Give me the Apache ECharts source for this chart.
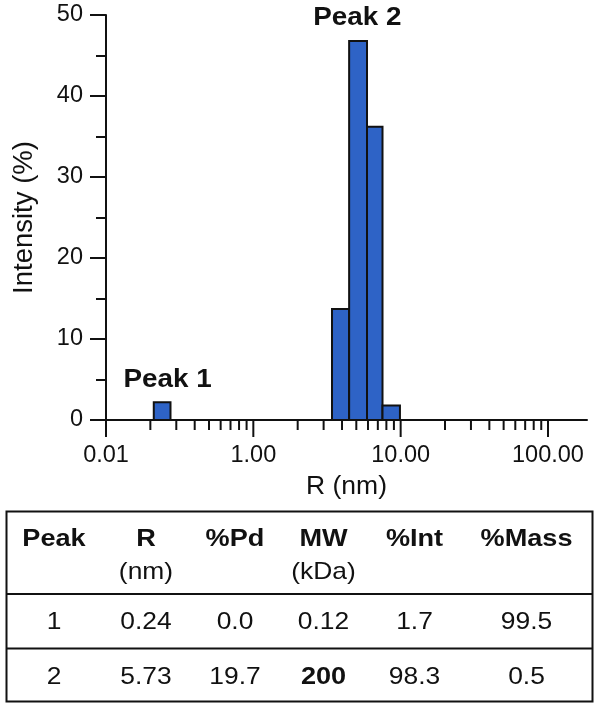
<!DOCTYPE html>
<html><head><meta charset="utf-8">
<script src="https://cdn.jsdelivr.net/npm/echarts@6/dist/echarts.min.js"></script>
<style>html,body{margin:0;padding:0;background:#fff}#c{width:600px;height:710px}</style>
</head><body><div id="c"></div>
<script>
// ---- data ----
const binStart = [0.211, 3.42, 4.47, 5.91, 7.53];
const binEnd = [0.274, 4.47, 5.91, 7.53, 9.89];
const intensity = [2.2, 13.7, 46.8, 36.2, 1.8];
const xMajorTicks = [0.1, 1, 10, 100];
const xMajorLabels = ['0.01', '1.00', '10.00', '100.00'];
const xMinorTicks = [0.2, 0.3, 0.4, 0.5, 0.6, 0.7, 0.8, 0.9, 2, 3, 4, 5, 6, 7, 8, 9, 20, 30, 40, 50, 60, 70, 80, 90];
const peakLabels = ['Peak 1', 'Peak 2'];
const peakLabelR = [0.262, 5.08];
const peakLabelY = [5.0, 49.7];
const tableHeaders = ['Peak', 'R', '%Pd', 'MW', '%Int', '%Mass'];
const tableUnits = ['', '(nm)', '', '(kDa)', '', ''];
const tableRow1 = ['1', '0.24', '0.0', '0.12', '1.7', '99.5'];
const tableRow2 = ['2', '5.73', '19.7', '200', '98.3', '0.5'];
const tableRow2Bold = [false, false, false, true, false, false];

// ---- layout/style ----
const FONT = 'Liberation Sans, Arial, Helvetica, sans-serif';
const INK = '#111';
const BAR = '#2E63C6';
const colX = [54, 146, 235, 323.5, 414.5, 526.5];

const chart = echarts.init(document.getElementById('c'), null, {renderer: 'canvas'});

function labelFor(v) {
  for (let i = 0; i < xMajorTicks.length; i++) {
    if (Math.abs(xMajorTicks[i] - v) / xMajorTicks[i] < 1e-6) return xMajorLabels[i];
  }
  return '';
}

const tickData = xMajorTicks.map(v => [v, 1]).concat(xMinorTicks.map(v => [v, 0]));

const graphics = [];
graphics.push({type: 'rect', shape: {x: 6.5, y: 511.5, width: 586, height: 190}, style: {fill: 'none', stroke: INK, lineWidth: 2}});
graphics.push({type: 'line', shape: {x1: 6.5, y1: 594, x2: 592.5, y2: 594}, style: {stroke: INK, lineWidth: 2}});
graphics.push({type: 'line', shape: {x1: 6.5, y1: 648.5, x2: 592.5, y2: 648.5}, style: {stroke: INK, lineWidth: 2}});
function cell(text, x, y, bold, size, sx) {
  return {type: 'text', x: x, y: y, scaleX: sx, style: {text: text, font: (bold ? 'bold ' : '') + size + 'px ' + FONT, fill: INK, align: 'center', verticalAlign: 'middle', textAlign: 'center', textVerticalAlign: 'middle'}};
}
tableHeaders.forEach((t, i) => graphics.push(cell(t, colX[i], 539, true, 24, 1.13)));
tableUnits.forEach((t, i) => { if (t) graphics.push(cell(t, colX[i], 572, false, 24, 1.1)); });
tableRow1.forEach((t, i) => graphics.push(cell(t, colX[i], 622, false, 24, 1.1)));
tableRow2.forEach((t, i) => graphics.push(cell(t, colX[i], 677, tableRow2Bold[i], 24, tableRow2Bold[i] ? 1.13 : 1.1)));

const option = {
  animation: false,
  backgroundColor: '#fff',
  grid: {left: 106, right: 13, top: 15, bottom: 290, containLabel: false, outerBoundsMode: 'none'},
  xAxis: {
    type: 'log', logBase: 10, min: 0.1, max: 184,
    name: 'R (nm)', nameLocation: 'middle', nameGap: 42,
    nameTextStyle: {fontFamily: FONT, fontSize: 26.5, color: INK},
    axisLine: {show: true, onZero: false, lineStyle: {color: INK, width: 2}},
    axisTick: {show: false},
    minorTick: {show: false},
    splitLine: {show: false},
    axisLabel: {show: true, margin: 24, fontFamily: FONT, fontSize: 23.5, color: INK, showMaxLabel: false, formatter: v => labelFor(v)}
  },
  yAxis: {
    type: 'value', min: 0, max: 50, interval: 10,
    name: 'Intensity (%)', nameLocation: 'middle', nameGap: 68,
    nameTextStyle: {fontFamily: FONT, fontSize: 27.5, color: INK},
    axisLine: {show: true, onZero: false, lineStyle: {color: INK, width: 2}},
    axisTick: {show: true, length: 16, lineStyle: {color: INK, width: 2}},
    minorTick: {show: true, splitNumber: 2, length: 10, lineStyle: {color: INK, width: 2}},
    splitLine: {show: false},
    axisLabel: {margin: 23, fontFamily: FONT, fontSize: 23.5, color: INK}
  },
  series: [
    {
      type: 'custom',
      data: binStart.map((s, i) => [s, binEnd[i], intensity[i]]),
      encode: {x: [0, 1], y: 2},
      renderItem: function (params, api) {
        const p0 = api.coord([api.value(0), api.value(2)]);
        const p1 = api.coord([api.value(1), 0]);
        return {type: 'rect', shape: {x: p0[0], y: p0[1], width: p1[0] - p0[0], height: p1[1] - p0[1]},
          style: {fill: BAR, stroke: INK, lineWidth: 2}};
      },
      z: 3
    },
    {
      type: 'custom',
      data: tickData,
      clip: false,
      silent: true,
      renderItem: function (params, api) {
        const p = api.coord([api.value(0), 0]);
        const len = api.value(1) ? 17 : 10;
        return {type: 'line', shape: {x1: p[0], y1: p[1], x2: p[0], y2: p[1] + len}, style: {stroke: INK, lineWidth: 2}};
      },
      z: 4
    },
    {
      type: 'custom',
      data: peakLabels.map((t, i) => [peakLabelR[i], peakLabelY[i], t]),
      clip: false,
      silent: true,
      renderItem: function (params, api) {
        const p = api.coord([api.value(0), api.value(1)]);
        return {type: 'text', x: p[0], y: p[1], scaleX: 1.07, style: {text: peakLabels[params.dataIndex], font: 'bold 26px ' + FONT, fill: INK, align: 'center', verticalAlign: 'middle'}};
      },
      z: 5
    }
  ],
  graphic: graphics
};
chart.setOption(option);
</script>
</body></html>
